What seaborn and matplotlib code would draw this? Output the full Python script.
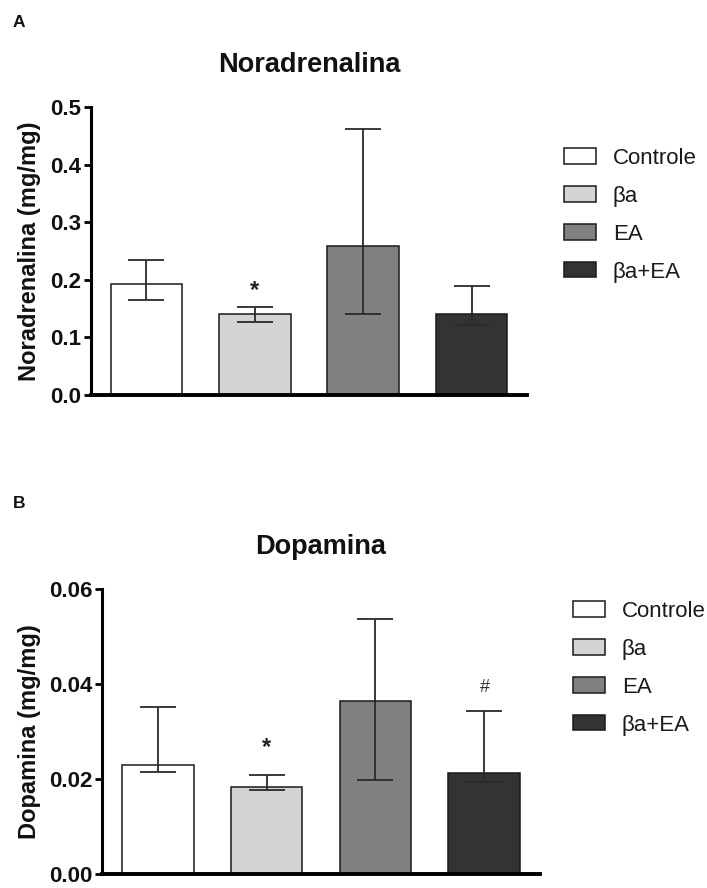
import matplotlib
matplotlib.use("Agg")
import matplotlib.pyplot as plt
from matplotlib.patches import Patch
import seaborn as sns
import pandas as pd

# Groups and colours
groups = ["Controle", "βa", "EA", "βa+EA"]
colors = ["#ffffff", "#d4d4d4", "#808080", "#333333"]

# Noradrenalina (mg/mg): bar value with lower / upper error limits
nor_value = [0.193, 0.140, 0.258, 0.140]
nor_low = [0.165, 0.127, 0.140, 0.121]
nor_high = [0.235, 0.153, 0.461, 0.190]

# Dopamina (mg/mg)
dop_value = [0.0229, 0.0183, 0.0365, 0.0213]
dop_low = [0.0215, 0.0177, 0.0197, 0.0194]
dop_high = [0.0352, 0.0208, 0.0536, 0.0343]

nor_ticks = [0.0, 0.1, 0.2, 0.3, 0.4, 0.5]
nor_ticklabels = ["0.0", "0.1", "0.2", "0.3", "0.4", "0.5"]
dop_ticks = [0.0, 0.02, 0.04, 0.06]
dop_ticklabels = ["0.00", "0.02", "0.04", "0.06"]

sns.set_theme(style="ticks")
plt.rcParams["font.family"] = ["Liberation Sans", "DejaVu Sans"]
plt.rcParams["text.color"] = "#111111"
plt.rcParams["axes.labelcolor"] = "#111111"

fig = plt.figure(figsize=(7.07, 8.88), dpi=100)
ax_a = fig.add_axes([0.1287, 0.5552, 0.6167, 0.3243])
ax_b = fig.add_axes([0.1443, 0.0158, 0.6195, 0.3209])


def draw_panel(ax, values, low, high, title, ylabel, ticks, ticklabels, ylabel_x):
    df = pd.DataFrame({"grupo": groups, "valor": values})
    sns.barplot(data=df, x="grupo", y="valor", hue="grupo", order=groups,
                hue_order=groups, palette=colors, width=0.66, errorbar=None,
                edgecolor="#1a1a1a", linewidth=1.1, legend=False, ax=ax)
    xs = list(range(len(groups)))
    yerr = [[v - l for v, l in zip(values, low)],
            [h - v for v, h in zip(values, high)]]
    ax.errorbar(xs, values, yerr=yerr, fmt="none", ecolor="#2a2a2a",
                elinewidth=1.3, capsize=13, capthick=1.3, zorder=5)
    ax.set_xlim(-0.51, 3.51)
    ax.set_ylim(ticks[0], ticks[-1])
    ax.set_yticks(ticks)
    ax.set_yticklabels(ticklabels, fontsize=16, fontweight="bold")
    ax.set_xticks([])
    ax.set_xlabel("")
    ax.set_ylabel(ylabel, fontsize=17, fontweight="bold")
    ax.yaxis.set_label_coords(ylabel_x, 0.5)
    ax.set_title(title, fontsize=19.5, fontweight="bold", pad=25)
    sns.despine(ax=ax)
    ax.spines["left"].set_linewidth(2.2)
    ax.spines["bottom"].set_linewidth(2.8)
    ax.spines["left"].set_color("black")
    ax.spines["bottom"].set_color("black")
    ax.tick_params(axis="y", length=5, width=2.0, pad=2, colors="black",
                   labelcolor="#111111")
    ax.set_facecolor("white")


draw_panel(ax_a, nor_value, nor_low, nor_high, "Noradrenalina",
           "Noradrenalina (mg/mg)", nor_ticks, nor_ticklabels, -0.115)
draw_panel(ax_b, dop_value, dop_low, dop_high, "Dopamina",
           "Dopamina (mg/mg)", dop_ticks, dop_ticklabels, -0.14)

# Significance markers above the error bars
ax_a.annotate("*", (1, nor_high[1]), xytext=(0, 12), textcoords="offset points",
              ha="center", va="center", fontsize=17, fontweight="bold",
              color="#222222")
ax_b.annotate("*", (1, dop_high[1]), xytext=(0, 20), textcoords="offset points",
              ha="center", va="center", fontsize=17, fontweight="bold",
              color="#222222")
ax_b.annotate("#", (3, dop_high[3]), xytext=(0, 17), textcoords="offset points",
              ha="center", va="center", fontsize=13, color="#333333")

# Legends
handles = [Patch(facecolor=c, edgecolor="#1a1a1a", linewidth=1.1, label=g)
           for g, c in zip(groups, colors)]
legend_kw = dict(frameon=False, fontsize=16, handlelength=1.45, handleheight=0.68,
                 labelspacing=0.76, handletextpad=0.75, borderaxespad=0,
                 loc="upper left")
leg_a = fig.legend(handles=handles, bbox_to_anchor=(555 / 707, 1 - 139 / 888),
                   **legend_kw)
leg_b = fig.legend(handles=handles, bbox_to_anchor=(564 / 707, 1 - 592 / 888),
                   **legend_kw)
for leg in (leg_a, leg_b):
    for t in leg.get_texts():
        t.set_color("#1a1a1a")

# Panel letters
fig.text(13 / 707, 1 - 27 / 888, "A", fontsize=12.5, fontweight="bold")
fig.text(13 / 707, 1 - 508 / 888, "B", fontsize=12.5, fontweight="bold")

fig.savefig("out.png", dpi=100, facecolor="white")
